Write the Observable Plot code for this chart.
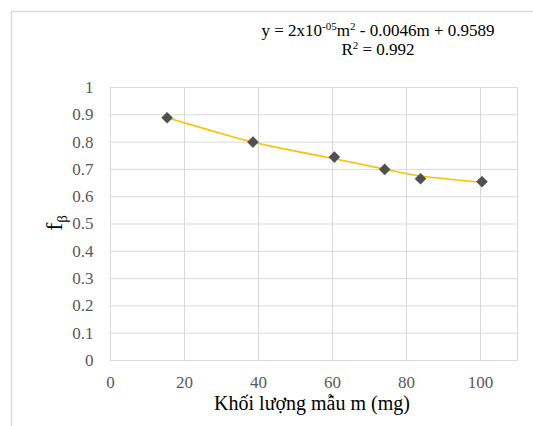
<!DOCTYPE html>
<html>
<head>
<meta charset="utf-8">
<script src="https://cdn.jsdelivr.net/npm/d3@7"></script>
<script src="https://cdn.jsdelivr.net/npm/@observablehq/plot@0.6"></script>
<style>
  html, body { margin: 0; padding: 0; background: #fff; }
  #chart svg { display: block; }
  #chart svg text, #chart svg tspan { font-family: "Liberation Serif", "DejaVu Serif", serif !important; }
</style>
</head>
<body>
<div id="chart"></div>
<script>
// Measured points: sample mass m (mg) vs f_beta
const massMg = [15.3, 38.5, 60.5, 74.1, 83.8, 100.4];
const fBeta  = [0.889, 0.800, 0.745, 0.700, 0.666, 0.655];

// Polynomial trendline
const trendMass = [15.3, 27, 38.5, 50, 60.5, 74.1, 83.8, 100.4];
const trendF    = [0.889, 0.843, 0.800, 0.767, 0.739, 0.701, 0.676, 0.653];

const xTicks = [0, 20, 40, 60, 80, 100];
const yTicks = [0, 0.1, 0.2, 0.3, 0.4, 0.5, 0.6, 0.7, 0.8, 0.9, 1];

// equation pieces: [text, superscript?]
const equationParts = [["y = 2x10", false], ["-05", true], ["m", false], ["2", true], [" - 0.0046m + 0.9589", false]];
const r2Parts = [["R", false], ["2", true], [" = 0.992", false]];
const xLabel = "Khối lượng mẫu m (mg)";

const points = massMg.map((m, i) => ({m, f: fBeta[i]}));
const trend = trendMass.map((m, i) => ({m, f: trendF[i]}));

const W = 533, H = 426;
const serif = "'Liberation Serif', 'DejaVu Serif', serif";
const chart = Plot.plot({
  width: W,
  height: H,
  marginLeft: 110,
  marginRight: 16,
  marginTop: 87,
  marginBottom: 66,
  style: {fontFamily: serif, fontSize: "17px", background: "#fff"},
  x: {domain: [0, 110], ticks: xTicks, label: null},
  y: {domain: [0, 1], ticks: yTicks, label: null},
  marks: [
    Plot.gridX(xTicks, {stroke: "#d9d9d9", strokeOpacity: 1, strokeWidth: 1}),
    Plot.gridY(yTicks, {stroke: "#d9d9d9", strokeOpacity: 1, strokeWidth: 1}),
    Plot.frame({stroke: "#d9d9d9", strokeWidth: 1}),
    Plot.axisX(xTicks, {tickSize: 0, tickPadding: 15, fill: "#595959", fontSize: 17, fontFamily: serif, tickFormat: d => String(d)}),
    Plot.axisY(yTicks, {tickSize: 0, tickPadding: 17, fill: "#595959", fontSize: 17, fontFamily: serif, tickFormat: d => String(d)}),
    Plot.line(trend, {x: "m", y: "f", stroke: "#FFC000", strokeWidth: 1.6, curve: "natural"}),
    Plot.dot(points, {x: "m", y: "f", symbol: "diamond2", r: 5, fill: "#505050", stroke: "#505050", strokeWidth: 0.5})
  ]
});

const svg = d3.select(chart);

// outer chart-area border (top and left visible)
svg.append("line").attr("x1", 11).attr("x2", W).attr("y1", 11.5).attr("y2", 11.5)
  .attr("stroke", "#d9d9d9").attr("stroke-width", 1.5);
svg.append("line").attr("x1", 11.5).attr("x2", 11.5).attr("y1", 11).attr("y2", H)
  .attr("stroke", "#d9d9d9").attr("stroke-width", 1.5);

function richText(x, y, parts) {
  const t = svg.append("text").attr("x", x).attr("y", y).attr("text-anchor", "middle")
    .attr("font-family", serif).attr("font-size", 17).attr("fill", "#000");
  parts.forEach(([s, sup]) => {
    const ts = t.append("tspan").text(s);
    if (sup) ts.attr("font-size", 11).attr("baseline-shift", "6");
  });
}
richText(378, 36, equationParts);
richText(378, 55, r2Parts);

// x axis title
svg.append("text").attr("x", 312).attr("y", 410).attr("text-anchor", "middle")
  .attr("font-family", serif).attr("font-size", 20).attr("fill", "#000")
  .text(xLabel);

// y axis title f_β
const yt = svg.append("text").attr("transform", "translate(62,223) rotate(-90)")
  .attr("text-anchor", "middle")
  .attr("font-family", serif).attr("font-size", 24).attr("fill", "#000");
yt.append("tspan").text("f");
yt.append("tspan").attr("font-size", 15).attr("dy", 5).text("β");

document.getElementById("chart").appendChild(chart);
</script>
</body>
</html>
